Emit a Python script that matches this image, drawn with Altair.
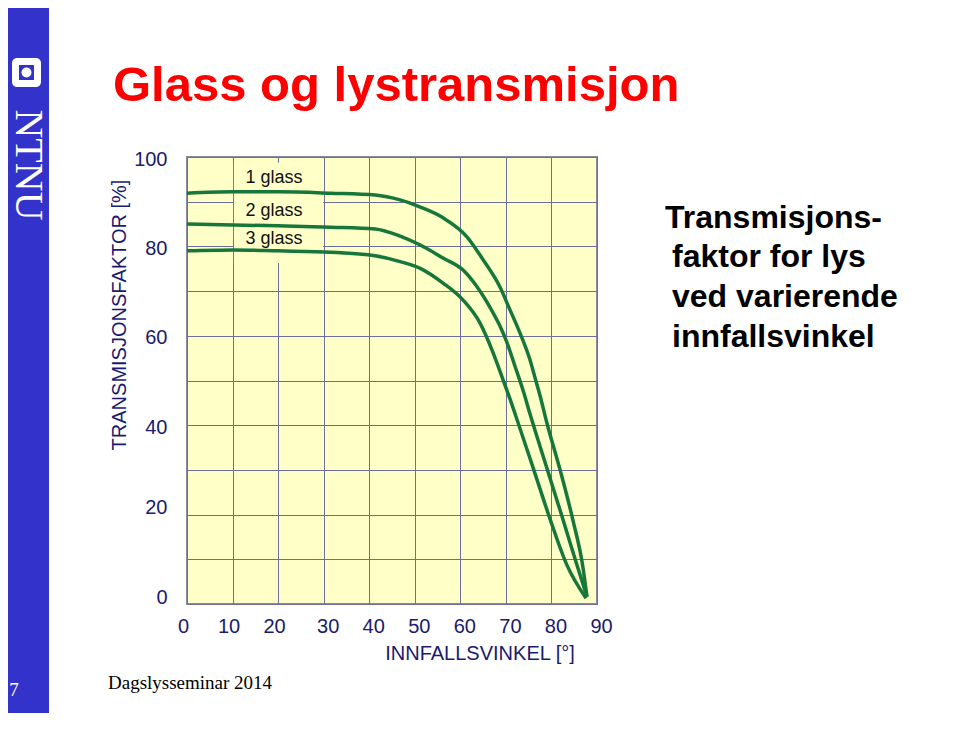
import altair as alt
import pandas as pd

# ---- data ----
series_names = ["1 glass", "2 glass", "3 glass"]

x_1 = [0, 10.1, 20.0, 31.6, 41.3, 46.8, 51.2, 56.2, 61.5, 65.0, 68.7, 70.9, 73.1, 75.3, 76.4, 77.5, 79.0, 81.9, 84.7, 86.9, 87.8]
y_1 = [91.9, 92.2, 92.2, 91.9, 91.5, 90.4, 88.8, 86.4, 82.1, 77.0, 70.9, 65.8, 60.6, 54.6, 50.6, 46.6, 40.5, 30.0, 18.8, 8.3, 1.6]

x_2 = [0, 10.1, 20.0, 31.6, 41.3, 46.8, 51.2, 56.2, 60.6, 63.7, 67.2, 68.7, 70.2, 72.0, 73.8, 75.3, 79.0, 82.5, 85.6, 87.8]
y_2 = [85.0, 84.8, 84.6, 84.3, 83.9, 82.3, 80.3, 77.4, 74.7, 70.9, 65.1, 62.2, 58.6, 53.2, 47.7, 42.5, 30.4, 19.0, 8.7, 1.6]

x_3 = [0, 10.1, 20.0, 31.6, 41.3, 46.8, 51.2, 56.2, 60.6, 64.3, 67.2, 69.4, 70.9, 72.4, 76.0, 79.7, 83.4, 87.6]
y_3 = [79.0, 79.2, 79.0, 78.7, 77.9, 76.6, 75.1, 71.8, 68.0, 62.9, 56.2, 50.1, 45.9, 41.4, 30.4, 19.0, 8.7, 1.3]

x_ticks = [0, 10, 20, 30, 40, 50, 60, 70, 80, 90]
y_ticks = [0, 10, 20, 30, 40, 50, 60, 70, 80, 90, 100]

label_text = ["1 glass", "2 glass", "3 glass"]
label_x = [19.1, 19.1, 19.1]
label_y = [95.3, 87.9, 81.7]

box_x = [10.3]
box_x2 = [29.9]
box_y = [76.3]
box_y2 = [98.7]

TITLE = "Glass og lystransmisjon"
SIDE_LINES = ["Transmisjons-", "faktor for lys", "ved varierende", "innfallsvinkel"]
Y_TITLE = "TRANSMISJONSFAKTOR [%]"
X_TITLE = "INNFALLSVINKEL [°]"
FOOTER = "Dagslysseminar 2014"
SLIDE_NO = "7"
LOGO = "NTNU"

# ---- styling ----
NAVY = "#1a1a6e"
GREEN = "#17773a"
BLUE = "#3333cc"
GRID = "#6e6e9c"
PLOT_BG = "#ffffc8"
SANS = "Liberation Sans"
SERIF = "Liberation Serif"

rows = []
for name, xs, ys in zip(series_names, [x_1, x_2, x_3], [y_1, y_2, y_3]):
    for i, (a, b) in enumerate(zip(xs, ys)):
        rows.append({"series": name, "x": a, "y": b, "order": i})
df = pd.DataFrame(rows)
labels_df = pd.DataFrame({"text": label_text, "x": label_x, "y": label_y})
box_df = pd.DataFrame({"x": box_x, "x2": box_x2, "y": box_y, "y2": box_y2})
one = pd.DataFrame({"k": [0]})

xscale = alt.Scale(domain=[0, 90], nice=False, zero=False)
yscale = alt.Scale(domain=[0, 100], nice=False, zero=False)

ax_x = alt.Axis(
    values=x_ticks, title=None, grid=True, gridColor=GRID, gridWidth=1, gridOpacity=1,
    ticks=False, domain=False, labelFont=SANS, labelFontSize=20, labelColor=NAVY,
    labelPadding=12, labelFlush=False, labelOverlap=False,
    labelOffset={"condition": {"test": "datum.value <= 20", "value": -4}, "value": 4},
)
ax_y = alt.Axis(
    values=y_ticks, title=None, grid=True, gridColor=GRID, gridWidth=1, gridOpacity=1,
    ticks=False, domain=False, labelFont=SANS, labelFontSize=20, labelColor=NAVY,
    labelPadding=20, labelFlush=False, labelOverlap=False,
    labelExpr="datum.value % 20 == 0 ? datum.label : ''",
    labelOffset={"condition": {"test": "datum.value <= 20", "value": -7}, "value": 2},
)

X = lambda: alt.X("x:Q", scale=xscale, axis=ax_x)
Y = lambda: alt.Y("y:Q", scale=yscale, axis=ax_y)

box = alt.Chart(box_df).mark_rect(color=PLOT_BG, opacity=1).encode(
    x=X(), x2="x2", y=Y(), y2="y2"
)

lines = alt.Chart(df).mark_line(color=GREEN, strokeWidth=3.5, interpolate="monotone").encode(
    x=X(), y=Y(), detail="series:N", order="order:Q"
)

glass_labels = alt.Chart(labels_df).mark_text(
    font=SANS, fontSize=18, color="#111111", align="center", baseline="middle"
).encode(x=X(), y=Y(), text="text:N")


def txt(s, x, y, **kw):
    return alt.Chart(one).mark_text(**kw).encode(
        x=alt.value(x), y=alt.value(y), text=alt.value(s)
    )


def rect(x, x2, y, y2, **kw):
    return alt.Chart(one).mark_rect(**kw).encode(
        x=alt.value(x), x2=alt.value(x2), y=alt.value(y), y2=alt.value(y2)
    )


band = rect(-179, -138, -149, 556, color=BLUE)
logo_outer = rect(-175, -146, -99, -70, color="white", cornerRadius=5)
logo_inner = rect(-168, -153, -92, -77, color=BLUE)
logo_dot = alt.Chart(one).mark_circle(size=100, color="white", opacity=1).encode(
    x=alt.value(-160.5), y=alt.value(-84.5)
)
logo_text = txt(LOGO, -159, 8, font=SERIF, fontSize=40, color="white", angle=90,
                align="center", baseline="middle")
slide_no = txt(SLIDE_NO, -173, 533, font=SERIF, fontSize=19, color="white",
               align="center", baseline="middle")

title = txt(TITLE, -74, -56, font=SANS, fontSize=49, fontWeight="bold", color="#ff0000",
            align="left", baseline="alphabetic")

side = []
side_x = [478, 485, 485, 485]
side_y = [71, 110, 150, 190]
for s, sx, sy in zip(SIDE_LINES, side_x, side_y):
    side.append(txt(s, sx, sy, font=SANS, fontSize=32, fontWeight="bold", color="#000000",
                    align="left", baseline="alphabetic"))

y_title = txt(Y_TITLE, -67, 158, font=SANS, fontSize=20, color=NAVY, angle=270,
              align="center", baseline="middle")
x_title = txt(X_TITLE, 293, 497, font=SANS, fontSize=20, color=NAVY,
              align="center", baseline="middle")
footer = txt(FOOTER, -79, 532, font=SERIF, fontSize=19, color="#000000",
             align="left", baseline="alphabetic")

chart = alt.layer(
    box, lines, glass_labels,
    band, logo_outer, logo_inner, logo_dot, logo_text, slide_no,
    title, *side, y_title, x_title, footer,
).properties(
    width=410,
    height=447,
    autosize=alt.AutoSizeParams(type="none"),
    padding={"left": 179, "top": 149, "right": 346, "bottom": 109},
    background="white",
).configure_view(
    fill=PLOT_BG, stroke="#8a8aa0", strokeWidth=2
)

chart.save("out.html", embed_options={"renderer": "svg", "actions": False})
